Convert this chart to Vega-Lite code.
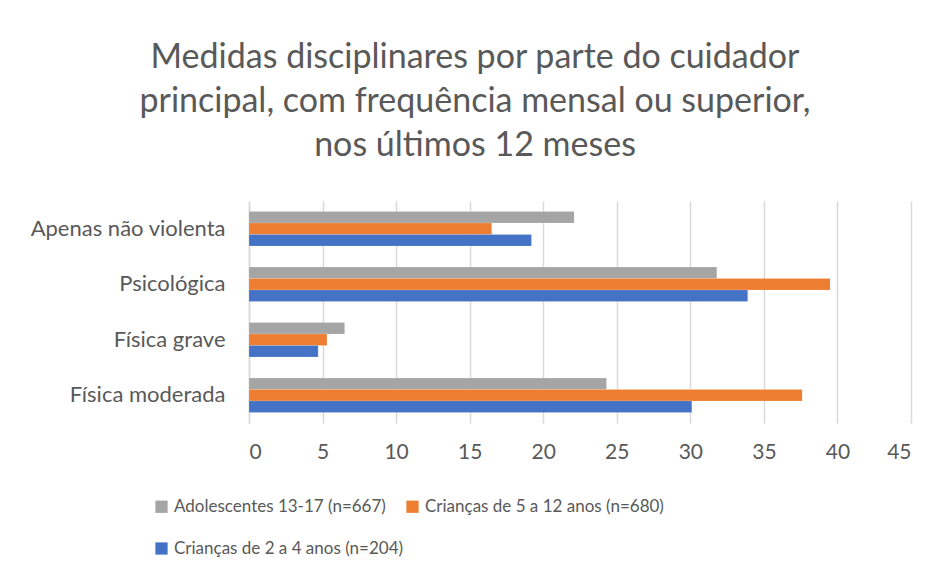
{
  "$schema": "https://vega.github.io/schema/vega-lite/v6.json",
  "autosize": "none",
  "width": 662,
  "height": 222,
  "padding": {"left": 249, "top": 201, "right": 29, "bottom": 156},
  "background": "white",
  "config": {
    "font": "Lato",
    "view": {"stroke": null}
  },
  "title": {
    "text": ["Medidas disciplinares por parte do cuidador", "principal, com frequência mensal ou superior,", "nos últimos 12 meses"],
    "fontSize": 34,
    "font": "Lato",
    "fontWeight": "normal",
    "color": "#595959",
    "anchor": "middle",
    "dx": -105,
    "lineHeight": 44,
    "offset": 38
  },
  "data": {
    "values": [
      {"categoria": "Apenas não violenta", "grupo": "Adolescentes 13-17 (n=667)", "valor": 22.1},
      {"categoria": "Apenas não violenta", "grupo": "Crianças de 5 a 12 anos (n=680)", "valor": 16.5},
      {"categoria": "Apenas não violenta", "grupo": "Crianças de 2 a 4 anos (n=204)", "valor": 19.2},
      {"categoria": "Psicológica", "grupo": "Adolescentes 13-17 (n=667)", "valor": 31.8},
      {"categoria": "Psicológica", "grupo": "Crianças de 5 a 12 anos (n=680)", "valor": 39.5},
      {"categoria": "Psicológica", "grupo": "Crianças de 2 a 4 anos (n=204)", "valor": 33.9},
      {"categoria": "Física grave", "grupo": "Adolescentes 13-17 (n=667)", "valor": 6.5},
      {"categoria": "Física grave", "grupo": "Crianças de 5 a 12 anos (n=680)", "valor": 5.3},
      {"categoria": "Física grave", "grupo": "Crianças de 2 a 4 anos (n=204)", "valor": 4.7},
      {"categoria": "Física moderada", "grupo": "Adolescentes 13-17 (n=667)", "valor": 24.3},
      {"categoria": "Física moderada", "grupo": "Crianças de 5 a 12 anos (n=680)", "valor": 37.6},
      {"categoria": "Física moderada", "grupo": "Crianças de 2 a 4 anos (n=204)", "valor": 30.1}
    ]
  },
  "mark": {"type": "bar", "stroke": "white", "strokeWidth": 0.5, "strokeOpacity": 0.3},
  "encoding": {
    "y": {
      "field": "categoria",
      "type": "nominal",
      "sort": ["Apenas não violenta", "Psicológica", "Física grave", "Física moderada"],
      "scale": {"paddingInner": 0.38, "paddingOuter": 0.19},
      "axis": {
        "title": null,
        "domain": true,
        "domainColor": "#d9d9d9",
        "domainWidth": 1.5,
        "ticks": false,
        "labelPadding": 24,
        "labelFontSize": 22,
        "labelLimit": 300,
        "labelColor": "#595959",
        "labelFont": "Lato"
      }
    },
    "yOffset": {
      "field": "grupo",
      "type": "nominal",
      "sort": ["Adolescentes 13-17 (n=667)", "Crianças de 5 a 12 anos (n=680)", "Crianças de 2 a 4 anos (n=204)"]
    },
    "x": {
      "field": "valor",
      "type": "quantitative",
      "scale": {"domain": [0, 45]},
      "axis": {
        "title": null,
        "values": [0, 5, 10, 15, 20, 25, 30, 35, 40, 45],
        "domain": false,
        "ticks": false,
        "grid": true,
        "gridColor": "#d9d9d9",
        "gridWidth": 1.5,
        "labelPadding": 18,
        "labelFontSize": 21,
        "labelColor": "#595959",
        "labelFont": "Lato"
      }
    },
    "color": {
      "field": "grupo",
      "type": "nominal",
      "sort": ["Adolescentes 13-17 (n=667)", "Crianças de 5 a 12 anos (n=680)", "Crianças de 2 a 4 anos (n=204)"],
      "scale": {
        "domain": ["Adolescentes 13-17 (n=667)", "Crianças de 5 a 12 anos (n=680)", "Crianças de 2 a 4 anos (n=204)"],
        "range": ["#A5A5A5", "#ED7D31", "#4472C4"]
      },
      "legend": {
        "title": null,
        "orient": "none",
        "legendX": -96,
        "legendY": 297,
        "direction": "horizontal",
        "columns": 2,
        "columnPadding": -4,
        "rowPadding": 24,
        "symbolType": "square",
        "symbolSize": 150,
        "symbolStrokeWidth": 0,
        "labelFontSize": 17,
        "labelColor": "#595959",
        "labelFont": "Lato",
        "labelOffset": 4,
        "labelLimit": 400
      }
    }
  }
}
